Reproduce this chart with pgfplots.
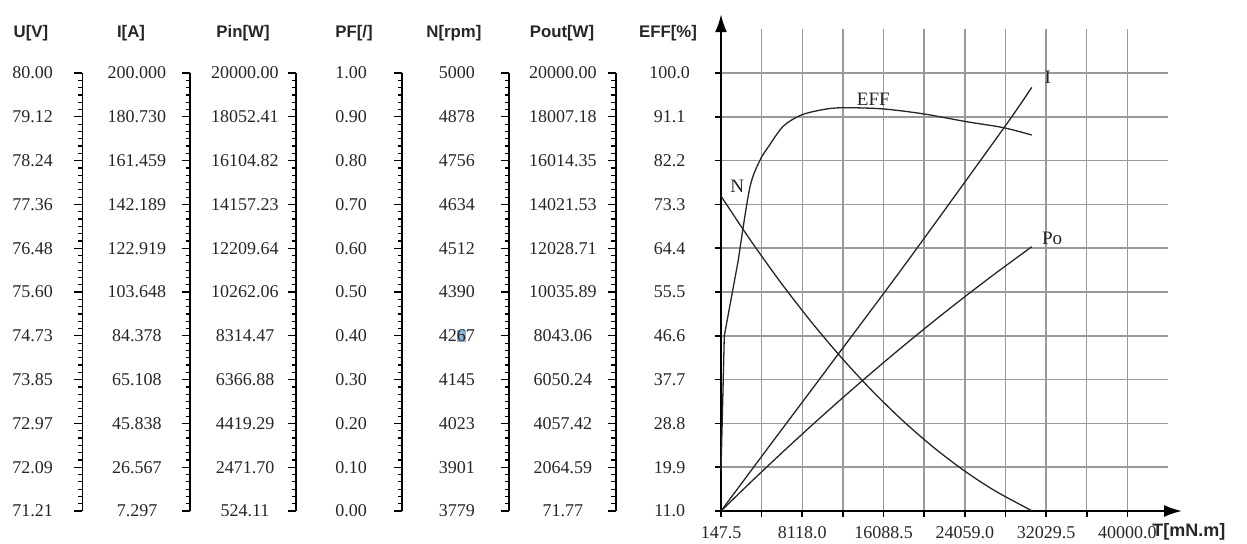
\documentclass[border=0pt]{standalone}
\usepackage{pgfplots}
\pgfplotsset{compat=1.18}
\usepackage{pgfplotstable}
\usepackage{fontspec}
\setmainfont{Liberation Serif}
\newfontfamily\hdrfont{Liberation Sans Bold}
\usetikzlibrary{arrows.meta}
\newcommand\numfont{\fontsize{9}{10}\selectfont}
\newcommand\hfont{\hdrfont\fontsize{8.4}{10}\selectfont}
\definecolor{selblue}{HTML}{8DB4D6}
\newcommand\hl[1]{{\setlength{\fboxsep}{0pt}\colorbox{selblue}{#1}}}

\pgfplotstableread{
T eff
147.5 19.1
471 46.6
1844.5 62.0
}\effA
\pgfplotstableread{
T eff
1844.5 62.0
2992 76.9
4140 83.0
4787 85.0
6258 89.2
8063 91.5
10516 92.7
12477 92.95
16067 92.7
19991 91.7
24248 90.1
27838 88.9
30624 87.4
}\effB
\pgfplotstableread{
T i
147.5 11
5000 24.5
11653 42.9
18520 62.0
27907 88.9
30624 97.1
}\curI
\pgfplotstableread{
T po
147.5 11
3000 16.73
6000 22.60
9000 28.31
12000 33.86
15000 39.25
18000 44.48
21000 49.55
24000 54.45
27000 59.19
30624 64.70
}\curPo
\pgfplotstableread{
T n
147.5 75.00
3000 66.14
6000 57.45
9000 49.43
12000 42.07
15000 35.36
18000 29.31
21000 23.92
24000 19.19
27000 15.12
30624 11.06
}\curN

\pgfplotsset{
  scalecol/.style 2 args={
    at={(#1,0pt)}, anchor=south west, scale only axis,
    width=2pt, height=219pt, xmin=0, xmax=1, ymin=0, ymax=10,
    axis x line=none, axis y line=left, xtick=\empty,
    y axis line style={-, line width=0.9pt, black},
    ytick={0,...,10}, minor y tick num=5,
    tick align=outside, major tick length=4pt, minor tick length=2.2pt,
    every tick/.style={black, line width=0.6pt},
    yticklabel style={anchor=center, xshift=#2, font=\numfont, text=black!85},
    clip=false,
  }
}

\begin{document}
\begin{tikzpicture}
\useasboundingbox (0pt,-16pt) rectangle (623.5pt,255.5pt);

% headers
\node[font=\hfont, text=black!85] at (15.5pt,239pt) {U[V]};
\node[font=\hfont, text=black!85] at (65.5pt,239pt) {I[A]};
\node[font=\hfont, text=black!85] at (121.5pt,239pt) {Pin[W]};
\node[font=\hfont, text=black!85] at (177pt,239pt) {PF[/]};
\node[font=\hfont, text=black!85] at (227pt,239pt) {N[rpm]};
\node[font=\hfont, text=black!85] at (281pt,239pt) {Pout[W]};
\node[font=\hfont, text=black!85] at (334pt,239pt) {EFF[\%]};

\begin{axis}[scalecol={41.2pt}{-20.9pt},
  yticklabels={71.21,72.09,72.97,73.85,74.73,75.60,76.48,77.36,78.24,79.12,80.00}]
\end{axis}
\begin{axis}[scalecol={95pt}{-22.5pt},
  yticklabels={7.297,26.567,45.838,65.108,84.378,103.648,122.919,142.189,161.459,180.730,200.000}]
\end{axis}
\begin{axis}[scalecol={148pt}{-21.5pt},
  yticklabels={524.11,2471.70,4419.29,6366.88,8314.47,10262.06,12209.64,14157.23,16104.82,18052.41,20000.00}]
\end{axis}
\begin{axis}[scalecol={201pt}{-21.5pt},
  yticklabels={0.00,0.10,0.20,0.30,0.40,0.50,0.60,0.70,0.80,0.90,1.00}]
\end{axis}
\begin{axis}[scalecol={254.6pt}{-22.2pt},
  yticklabels={3779,3901,4023,4145,{42\hl{6}7},4390,4512,4634,4756,4878,5000}]
\end{axis}
\begin{axis}[scalecol={307.9pt}{-22.5pt},
  yticklabels={71.77,2064.59,4057.42,6050.24,8043.06,10035.89,12028.71,14021.53,16014.35,18007.18,20000.00}]
\end{axis}

\begin{axis}[
  at={(360.5pt,0pt)}, anchor=south west, scale only axis,
  width=223.5pt, height=240.9pt,
  xmin=147.5, xmax=43985.25, ymin=11, ymax=108.9,
  axis lines=left,
  axis line style={line width=1pt, black},
  x axis line style={-{Latex[length=9pt,width=6pt]}, shorten >=-7pt},
  y axis line style={-{Latex[length=9pt,width=6pt]}, shorten >=-7.5pt},
  xtick={147.5,4132.75,8118,12103.25,16088.5,20073.75,24059,28044.25,32029.5,36014.75,40000},
  xticklabels={147.5,,8118.0,,16088.5,,24059.0,,32029.5,,40000.0},
  ytick={11,19.9,28.8,37.7,46.6,55.5,64.4,73.3,82.2,91.1,100},
  yticklabels={11.0,19.9,28.8,37.7,46.6,55.5,64.4,73.3,82.2,91.1,100.0},
  grid=major, grid style={black!40, line width=0.75pt},
  tick align=outside, major tick length=3pt,
  every tick/.style={black, line width=0.8pt},
  yticklabel style={anchor=center, xshift=-22.65pt, font=\numfont, text=black!85},
  xticklabel style={anchor=center, yshift=-8pt, inner sep=0pt, font=\numfont, text=black!85},
  clip=false,
]
\addplot[black!85, line width=0.65pt] table[x=T,y=eff] {\effA};
\addplot[black!85, line width=0.65pt, smooth] table[x=T,y=eff] {\effB};
\addplot[black!85, line width=0.65pt, smooth] table[x=T,y=i] {\curI};
\addplot[black!85, line width=0.65pt, smooth] table[x=T,y=po] {\curPo};
\addplot[black!85, line width=0.65pt, smooth] table[x=T,y=n] {\curN};
\node[font=\fontsize{9.5}{10}\selectfont, text=black!85] at (axis cs:15087,94.7) {EFF};
\node[font=\fontsize{9.5}{10}\selectfont, text=black!85] at (axis cs:32194,99.1) {I};
\node[font=\fontsize{9.5}{10}\selectfont, text=black!85] at (axis cs:32615,66.5) {Po};
\node[font=\fontsize{9.5}{10}\selectfont, text=black!85] at (axis cs:1746,76.9) {N};
\end{axis}

\node[font=\hdrfont\fontsize{9}{10}\selectfont, text=black!85, anchor=west, inner sep=0pt] at (576pt,-10.5pt) {T[mN.m]};
\end{tikzpicture}
\end{document}
